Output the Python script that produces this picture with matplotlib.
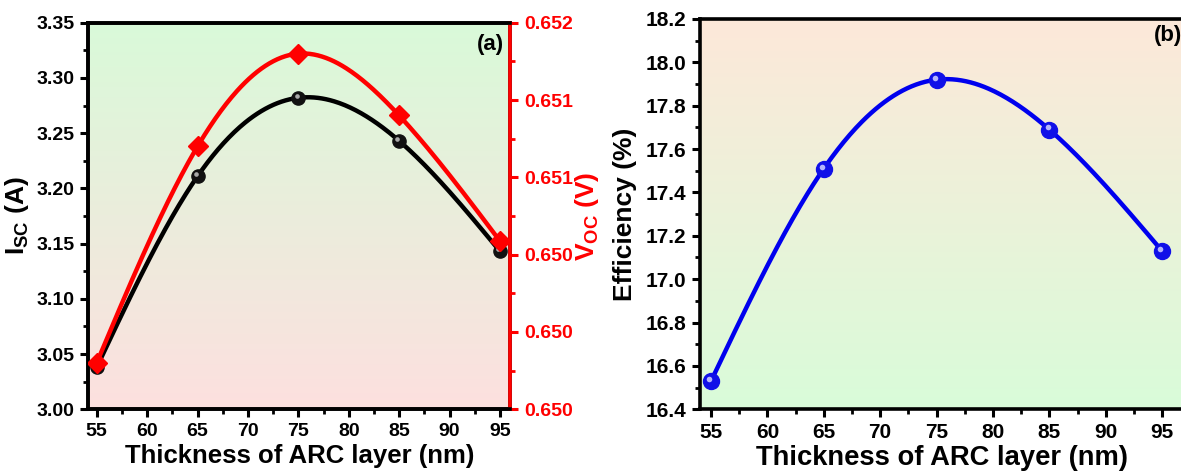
import numpy as np
import matplotlib
matplotlib.use("Agg")
import matplotlib.pyplot as plt
from matplotlib.ticker import MultipleLocator, FormatStrFormatter
from matplotlib.transforms import offset_copy
from matplotlib.colors import to_rgb

plt.rcParams['font.family'] = ['Liberation Sans', 'DejaVu Sans']
plt.rcParams['font.weight'] = 'bold'
plt.rcParams['axes.labelweight'] = 'bold'
plt.rcParams['mathtext.fontset'] = 'custom'
plt.rcParams['mathtext.rm'] = 'Liberation Sans:bold'
plt.rcParams['mathtext.bf'] = 'Liberation Sans:bold'
plt.rcParams['mathtext.default'] = 'rm'

# data
thickness = [55, 65, 75, 85, 95]
isc = [3.038, 3.211, 3.282, 3.243, 3.143]
voc = [0.64984, 0.65096, 0.65144, 0.65112, 0.65047]
efficiency = [16.53, 17.51, 17.92, 17.69, 17.13]


def natural_spline(x, y, n=300):
    # plain natural cubic spline, only used to draw the smooth line
    x = np.asarray(x, float)
    y = np.asarray(y, float)
    k = len(x)
    h = np.diff(x)
    A = np.zeros((k, k))
    b = np.zeros(k)
    A[0, 0] = A[-1, -1] = 1
    for i in range(1, k - 1):
        A[i, i - 1] = h[i - 1]
        A[i, i] = 2 * (h[i - 1] + h[i])
        A[i, i + 1] = h[i]
        b[i] = 3 * ((y[i + 1] - y[i]) / h[i] - (y[i] - y[i - 1]) / h[i - 1])
    c = np.linalg.solve(A, b)
    xs = np.linspace(x[0], x[-1], n)
    ys = np.empty_like(xs)
    for j, t in enumerate(xs):
        i = min(np.searchsorted(x, t, side='right') - 1, k - 2)
        d = t - x[i]
        bi = (y[i + 1] - y[i]) / h[i] - h[i] * (2 * c[i] + c[i + 1]) / 3
        di = (c[i + 1] - c[i]) / (3 * h[i])
        ys[j] = y[i] + bi * d + c[i] * d ** 2 + di * d ** 3
    return xs, ys


def gradient_bg(ax, top, bottom):
    t = np.array(to_rgb(top))
    bt = np.array(to_rgb(bottom))
    f = np.linspace(0, 1, 256)[:, None]
    img = (t * (1 - f) + bt * f)[:, None, :]
    ax.imshow(img, extent=[0, 1, 0, 1], transform=ax.transAxes,
              aspect='auto', zorder=0, interpolation='bilinear')


def style_axis(ax, size):
    ax.tick_params(which='major', direction='out', length=6, width=2.2,
                   labelsize=size, pad=4)
    ax.tick_params(which='minor', direction='out', length=3.5, width=2)
    for s in ax.spines.values():
        s.set_linewidth(2.6)


def balls(ax, x, y, color, ms, hl):
    ax.plot(x, y, 'o', color=color, ms=ms, mec=color, zorder=5,
            linestyle='none')
    tr = offset_copy(ax.transData, fig=ax.figure, x=-1.3, y=1.5, units='points')
    ax.plot(x, y, 'o', color=hl, ms=ms * 0.35, mec='none', alpha=0.9,
            transform=tr, zorder=6, linestyle='none')


fig = plt.figure(figsize=(11.81, 4.73), dpi=100)

# ---- panel (a)
ax1 = fig.add_axes([0.0748, 0.1347, 0.3571, 0.8173])
gradient_bg(ax1, '#d9fad9', '#fde0df')
xs, ys = natural_spline(thickness, isc)
ax1.plot(xs, ys, color='black', lw=3.2, zorder=3)
balls(ax1, thickness, isc, '#111111', 9.5, '#bbbbbb')
ax1.set_xlim(54.17, 96.0)
ax1.set_ylim(3.00, 3.35)
ax1.xaxis.set_major_locator(MultipleLocator(5))
ax1.xaxis.set_minor_locator(MultipleLocator(2.5))
ax1.yaxis.set_major_locator(MultipleLocator(0.05))
ax1.yaxis.set_minor_locator(MultipleLocator(0.025))
ax1.yaxis.set_major_formatter(FormatStrFormatter('%.2f'))
style_axis(ax1, 14)
ax1.set_xlabel('Thickness of ARC layer (nm)', fontsize=18.5, labelpad=3)
ax1.set_ylabel('I$_{SC}$ (A)', fontsize=19, labelpad=4)
ax1.text(0.985, 0.97, '(a)', transform=ax1.transAxes, ha='right', va='top',
         fontsize=16)

ax2 = ax1.twinx()
xs, ys = natural_spline(thickness, voc)
ax2.plot(xs, ys, color='#ff0000', lw=3.2, zorder=3)
ax2.plot(thickness, voc, 'D', color='#ff0000', ms=10.5, zorder=5,
         linestyle='none')
ax2.set_ylim(0.6496, 0.6516)
ax2.yaxis.set_major_locator(MultipleLocator(0.0004))
ax2.yaxis.set_minor_locator(MultipleLocator(0.0002))
ax2.yaxis.set_major_formatter(FormatStrFormatter('%.3f'))
style_axis(ax2, 14)
ax2.tick_params(axis='y', which='both', colors='#ff0000')
ax2.spines['right'].set_color('#ff0000')
ax2.set_ylabel('V$_{OC}$ (V)', fontsize=19, color='#ff0000', labelpad=0)

# ---- panel (b)
ax3 = fig.add_axes([0.5927, 0.1347, 0.4099, 0.8252])
gradient_bg(ax3, '#fde8da', '#d9fcd9')
xs, ys = natural_spline(thickness, efficiency)
ax3.plot(xs, ys, color='#0000ee', lw=3.2, zorder=3)
balls(ax3, thickness, efficiency, '#1010e8', 11.5, '#c8c8ff')
ax3.set_xlim(54.02, 96.95)
ax3.set_ylim(16.4, 18.2)
ax3.xaxis.set_major_locator(MultipleLocator(5))
ax3.xaxis.set_minor_locator(MultipleLocator(2.5))
ax3.yaxis.set_major_locator(MultipleLocator(0.2))
ax3.yaxis.set_minor_locator(MultipleLocator(0.1))
ax3.yaxis.set_major_formatter(FormatStrFormatter('%.1f'))
style_axis(ax3, 15)
ax3.set_xlabel('Thickness of ARC layer (nm)', fontsize=19.7, labelpad=2)
ax3.set_ylabel('Efficiency (%)', fontsize=19, labelpad=6)
ax3.text(0.995, 0.985, '(b)', transform=ax3.transAxes, ha='right', va='top',
         fontsize=16)

fig.savefig('out.png', dpi=100)
